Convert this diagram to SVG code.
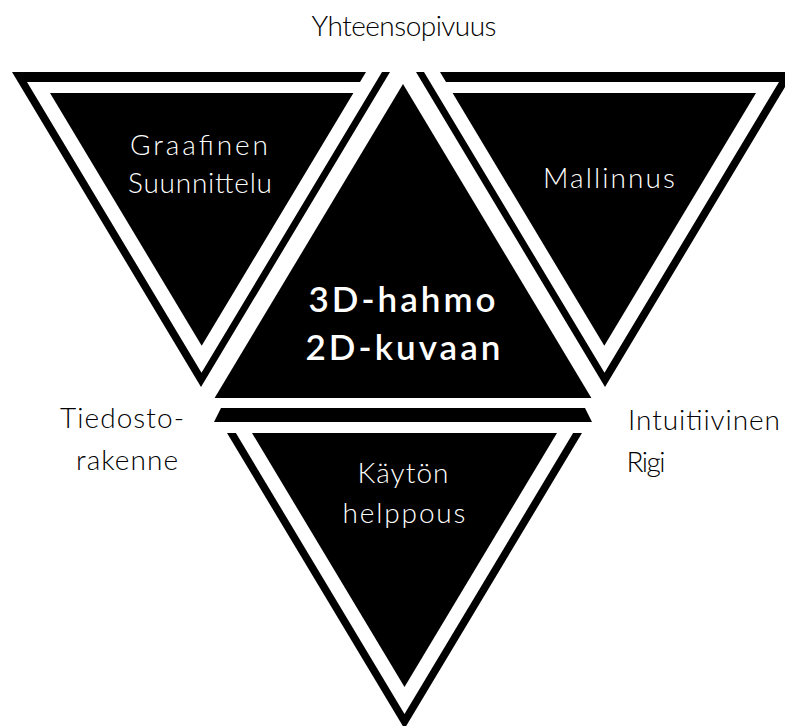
<svg xmlns="http://www.w3.org/2000/svg" width="785" height="726" viewBox="0 0 785 726">
<style>
.b{fill:#000}
.w{fill:#fff}
.t{font-family:Lato,"Liberation Sans",sans-serif;font-weight:300;font-size:28px;text-anchor:middle}
.tw{fill:#fff}
.tb{fill:#000}
.c{font-family:Lato,"Liberation Sans",sans-serif;font-weight:600;font-size:35px;text-anchor:middle;fill:#fff}
</style>
<rect width="785" height="726" fill="#fff"/>
<g id="label-top">
<text class="t tb" x="404" y="36" font-size="26" textLength="185">Yhteensopivuus</text>
</g>
<g id="node-graafinen">
<polygon class="b" points="12,72 390,72 201,387"/>
<polygon class="w" points="27,82 360,82 367.2,70 383.2,70 201.5,372.8"/>
<polygon class="b" points="50,93 353.4,93 201.7,345.8"/>
<text class="t tw" x="199" y="155" textLength="138">Graafinen</text>
<text class="t tw" x="200" y="193" textLength="144">Suunnittelu</text>
</g>
<g id="node-mallinnus">
<polygon class="b" points="794,72 416,72 605,387"/>
<polygon class="w" points="779,82 446,82 438.8,70 422.8,70 604.5,372.8"/>
<polygon class="b" points="756,93 452.6,93 604.3,345.8"/>
<text class="t tw" x="609" y="188" textLength="132">Mallinnus</text>
</g>
<g id="node-center">
<polygon class="b" points="403,84 214.6,398 591.4,398"/>
<text class="c" x="402" y="312" textLength="187">3D-hahmo</text>
<text class="c" x="403" y="360" textLength="195">2D-kuvaan</text>
</g>
<g id="node-kaytto">
<polygon class="b" points="221,408 585,408 592,422 214,422"/>
<polygon class="b" points="227,433 582,433 404.5,728.8"/>
<polygon class="w" points="235.9,433 573.1,433 404.5,714"/>
<polygon class="b" points="252,433 557,433 404.5,687"/>
<text class="t tw" x="403" y="483" textLength="91">Käytön</text>
<text class="t tw" x="404" y="523" textLength="123">helppous</text>
</g>
<g id="label-tiedosto">
<text class="t tb" x="122" y="428" textLength="124">Tiedosto-</text>
<text class="t tb" x="127" y="470" textLength="102">rakenne</text>
</g>
<g id="label-intuitiivinen">
<text class="t tb" x="704" y="430" textLength="152">Intuitiivinen</text>
<text class="t tb" x="646" y="472" textLength="39">Rigi</text>
</g>
</svg>
